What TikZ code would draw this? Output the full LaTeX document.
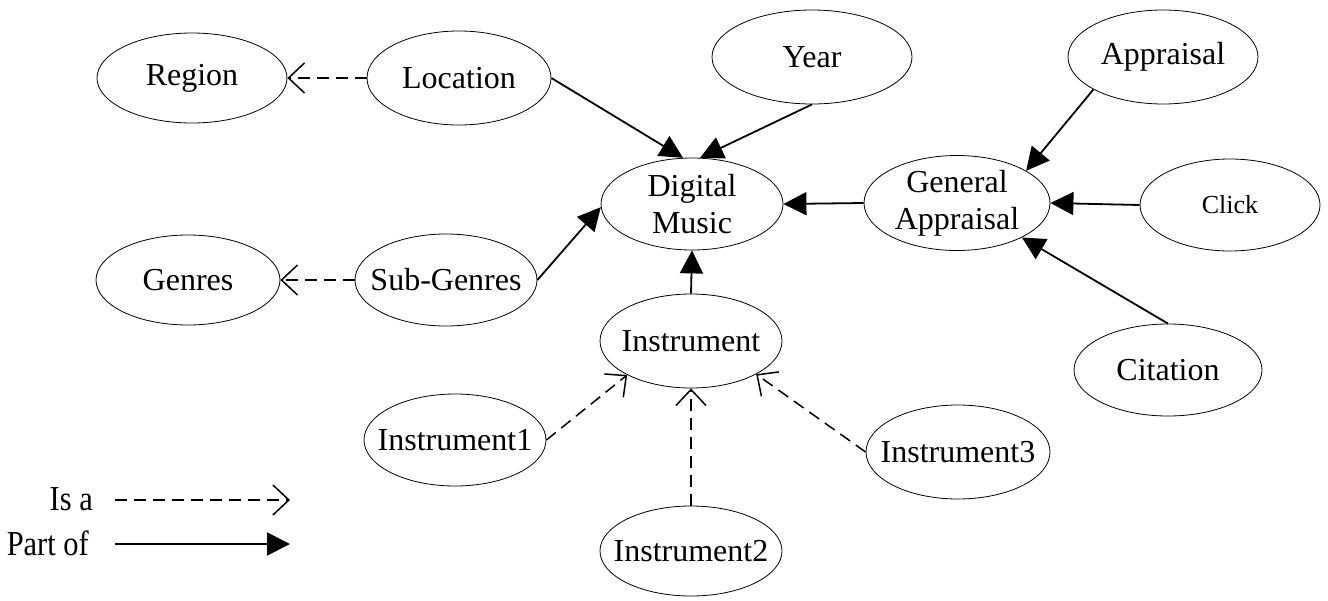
\documentclass[tikz,border=0pt]{standalone}
\usepackage{fontspec}
\setmainfont{Liberation Serif}
\usetikzlibrary{arrows.meta,shapes.geometric}
\begin{document}
\begin{tikzpicture}[x=1pt,y=-1pt,
  concept/.style={draw, ellipse, line width=0.8pt, inner sep=0pt, minimum width=184pt, minimum height=92pt},
  ctext/.style={inner sep=0pt, align=center, font=\fontsize{32}{37}\selectfont},
  partof/.style={line width=1.8pt, -{Triangle[length=23pt,width=23pt]}},
  isa/.style={line width=1.5pt, dash pattern=on 12pt off 7pt, -{Straight Barb[length=16pt,width=30pt,line width=1.5pt]}},
  legendtext/.style={anchor=base east, inner sep=0pt, font=\fontsize{35}{40}\selectfont}
]
\useasboundingbox (0,0) rectangle (1328,600);
\node[concept, minimum width=190pt, minimum height=90pt] (region) at (192,78) {};
\node[concept, minimum height=94pt] (loc) at (459,78) {};
\node[concept, minimum width=200pt, minimum height=94pt] (year) at (812,57) {};
\node[concept, minimum width=190pt, minimum height=94pt] (appr) at (1163,57) {};
\node[concept, minimum width=182pt] (dm) at (692,204) {};
\node[concept, minimum width=186pt, minimum height=95pt] (ga) at (957,203) {};
\node[concept, minimum width=180pt] (click) at (1230,205) {};
\node[concept, minimum height=90pt] (genres) at (188,280) {};
\node[concept, minimum width=182pt] (sub) at (446,280) {};
\node[concept, minimum width=182pt, minimum height=94pt] (inst) at (691,341) {};
\node[concept, minimum width=188pt] (cit) at (1168,370) {};
\node[concept, minimum width=182pt] (i1) at (455,440) {};
\node[concept, minimum height=94pt] (i3) at (958,452) {};
\node[concept, minimum width=182pt, minimum height=90pt] (i2) at (691,551) {};

\node[ctext] (region-t) at (region) {Region};
\node[ctext] (loc-t) at (loc) {Location};
\node[ctext] (year-t) at (year) {Year};
\node[ctext] (appr-t) at (appr) {Appraisal};
\node[ctext] (dm-t) at (dm) {Digital\\Music};
\node[ctext] (ga-t) at (ga) {General\\Appraisal};
\node[ctext, font=\fontsize{26}{30}\selectfont] (click-t) at (click) {Click};
\node[ctext] (genres-t) at (genres) {Genres};
\node[ctext] (sub-t) at (sub) {Sub-Genres};
\node[ctext] (inst-t) at (inst) {Instrument};
\node[ctext] (cit-t) at (cit) {Citation};
\node[ctext] (i1-t) at (i1) {Instrument1};
\node[ctext] (i3-t) at (i3) {Instrument3};
\node[ctext] (i2-t) at (i2) {Instrument2};

\draw[isa] (loc.west) -- (region.east);
\draw[isa] (sub.west) -- (genres.east);
\draw[partof] (loc.east) -- (dm.101);
\draw[partof] (year.south) -- (dm.80);
\draw[partof] (sub.east) -- (dm.182);
\draw[partof] (ga.west) -- (dm.east);
\draw[partof] (click.west) -- (ga.east);
\draw[partof] (appr.205) -- (ga.25);
\draw[partof] (cit.north) -- (ga.-28);
\draw[partof] (inst.north) -- (dm.south);
\draw[isa] (i1.east) -- (inst.208);
\draw[isa] (i2.north) -- (inst.south);
\draw[isa] (i3.west) -- (inst.-27);

\node[legendtext] (lisa) at (93,510) {\scalebox{0.87}[1]{Is a}};
\node[legendtext] (lpart) at (89,555) {\scalebox{0.87}[1]{Part of}};
\coordinate (isaA) at (115,500);
\coordinate (isaB) at (290,500);
\coordinate (partA) at (115,544);
\coordinate (partB) at (290,544);
\draw[isa] (isaA) -- (isaB);
\draw[partof] (partA) -- (partB);
\end{tikzpicture}
\end{document}
